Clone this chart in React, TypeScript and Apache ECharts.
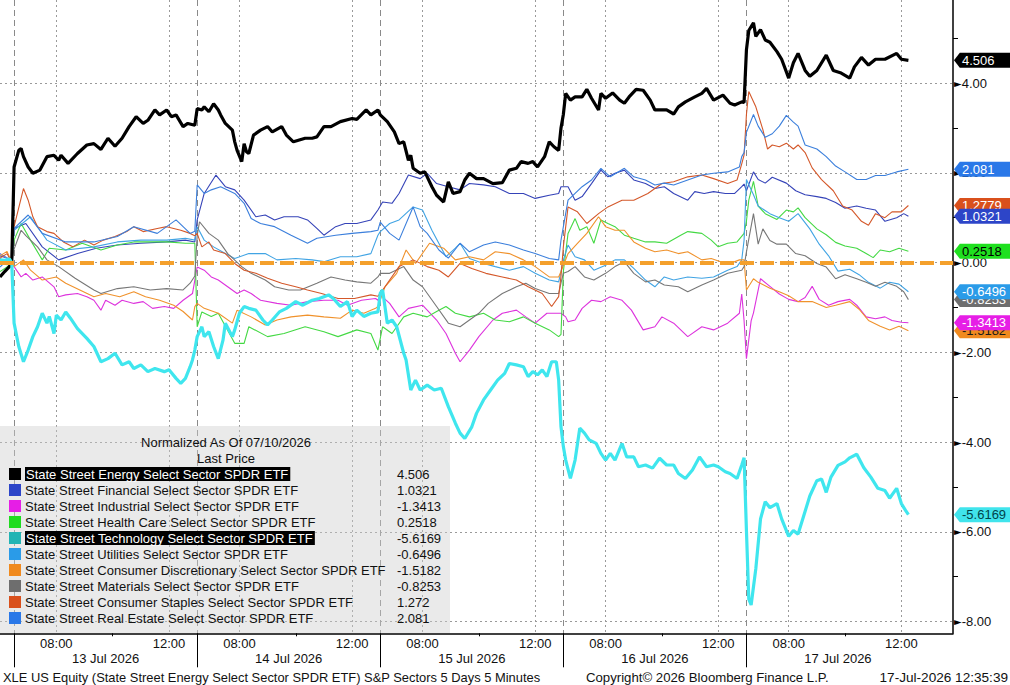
import React, { useEffect, useRef } from "react";
import * as echarts from "echarts";

// ---------- axis / time structure ----------
const DAYS = ["13 Jul 2026", "14 Jul 2026", "15 Jul 2026", "16 Jul 2026", "17 Jul 2026"];
const PRIOR_DAY = "10 Jul 2026";
const PRIOR_BARS = 6; // last bars of 07/10 session
const BARS_PER_DAY = 78; // 5-minute bars 06:30-13:00 (terminal local time)
const TOTAL_BARS = 407;
const OPEN_MIN = 390; // 06:30
const PRIOR_START_MIN = 750; // 12:30
const LABEL_TIMES = ["08:00", "12:00"];
const TICK_TIMES = ["10:00"];

// ---------- series values: [bar index, normalized % change] ----------
const ENERGY = [[0,-0.32],[2,-0.2],[4,-0.09],[5,0],[6,2.13],[8,2.5],[9,2.54],[10,2.36],[12,2.13],[14,1.99],[17,2.06],[20,2.36],[23,2.39],[25,2.28],[26,2.39],[29,2.21],[33,2.43],[37,2.62],[40,2.65],[43,2.52],[46,2.77],[49,2.59],[52,2.77],[55,3.03],[58,3.25],[61,3.1],[63,3.17],[66,3.4],[68,3.29],[71,3.4],[73,3.25],[75,3.29],[78,3.03],[80,3.1],[83,3.06],[84,3.43],[86,3.4],[87,3.47],[89,3.36],[91,3.54],[93,3.4],[94,3.29],[96,3.1],[99,2.95],[100,2.69],[101,2.5],[103,2.25],[104,2.65],[105,2.47],[106,2.43],[108,2.84],[111,2.95],[114,3.03],[116,2.91],[120,3.03],[122,2.84],[125,2.69],[130,2.77],[133,2.77],[135,2.8],[138,3.03],[141,3.03],[145,3.14],[150,3.21],[152,3.19],[156,3.4],[158,3.29],[161,3.4],[162,3.29],[165,3.14],[168,2.91],[170,2.65],[172,2.69],[174,2.28],[175,2.39],[176,2.1],[179,1.99],[181,2.02],[184,1.69],[186,1.5],[189,1.35],[191,1.8],[193,1.54],[196,1.58],[198,1.84],[200,1.99],[203,1.87],[206,1.87],[210,1.76],[214,1.78],[217,2.06],[220,2.1],[222,2.25],[225,2.21],[227,2.25],[229,2.13],[232,2.36],[234,2.69],[236,2.58],[238,2.5],[239,3.0],[240,3.3],[241,3.77],[243,3.62],[245,3.69],[248,3.69],[250,3.86],[252,3.66],[255,3.4],[256,3.77],[258,3.66],[261,3.78],[264,3.62],[266,3.55],[268,3.69],[271,3.86],[274,3.84],[277,3.62],[279,3.4],[282,3.4],[284,3.4],[287,3.31],[289,3.47],[292,3.58],[296,3.69],[299,3.77],[301,3.88],[304,3.62],[308,3.73],[311,3.55],[313,3.51],[316,3.58],[317,3.57],[318,4.74],[319,5.17],[321,5.34],[322,5.04],[324,5.19],[326,4.96],[328,4.91],[331,4.7],[333,4.53],[336,4.11],[338,4.45],[340,4.66],[343,4.28],[345,4.15],[348,4.28],[352,4.62],[355,4.28],[358,4.23],[362,4.11],[364,4.36],[367,4.57],[370,4.4],[373,4.53],[377,4.53],[382,4.66],[384,4.53],[387,4.506]];

const FINANCIAL = [[0,0.15],[3,0.1],[5,0],[6,0.76],[11,0.87],[18,0.35],[25,0.06],[33,0.2],[41,0.32],[50,0.39],[60,0.43],[71,0.46],[79,0.5],[83,0.46],[84,0.95],[87,1.54],[92,1.95],[96,1.69],[100,1.62],[104,1.39],[109,1.02],[113,1.06],[117,0.95],[121,1.02],[127,1.02],[131,0.95],[135,0.76],[138,0.61],[143,0.8],[147,0.87],[152,0.87],[158,0.95],[161,1.17],[163,1.35],[167,1.32],[170,1.54],[174,1.95],[179,1.87],[182,1.99],[186,1.76],[191,1.69],[196,1.62],[200,1.76],[206,1.73],[211,1.69],[217,1.54],[223,1.54],[228,1.43],[234,1.5],[238,1.54],[239,1.69],[242,1.69],[245,1.39],[248,1.47],[252,1.76],[256,2.06],[259,1.91],[262,1.99],[266,2.06],[270,1.84],[275,1.76],[279,1.65],[283,1.69],[287,1.54],[293,1.39],[296,1.58],[300,1.54],[304,1.58],[309,1.54],[313,1.54],[316,1.69],[317,1.75],[318,1.6],[321,2.02],[323,1.85],[326,1.77],[329,1.9],[335,1.77],[339,1.6],[343,1.51],[348,1.47],[352,1.43],[356,1.34],[360,1.21],[365,1.26],[369,1.21],[373,1.17],[377,0.92],[382,1.0],[385,1.09],[387,1.0321]];

const INDUSTRIAL = [[0,0.2],[3,0.1],[5,0],[6,-0.09],[9,-0.32],[11,-0.24],[14,-0.39],[18,-0.32],[23,-0.54],[25,-0.76],[28,-0.72],[33,-0.69],[37,-0.76],[40,-0.84],[43,-1.06],[45,-0.84],[49,-0.95],[52,-0.84],[57,-0.91],[61,-0.87],[65,-1.02],[70,-0.98],[74,-1.02],[78,-0.84],[82,-0.69],[83,-0.39],[84,-0.1],[87,-0.17],[90,-0.32],[93,-0.39],[97,-0.54],[101,-0.69],[104,-0.61],[107,-0.69],[111,-0.84],[118,-0.91],[124,-0.95],[131,-0.87],[138,-0.84],[144,-0.84],[148,-0.95],[154,-0.84],[160,-0.8],[161,-0.84],[162,-0.72],[166,-0.91],[170,-1.21],[174,-1.02],[180,-0.95],[186,-1.28],[190,-1.58],[194,-2.02],[196,-2.21],[200,-1.95],[204,-1.65],[210,-1.28],[214,-1.13],[220,-1.06],[224,-1.21],[228,-1.35],[233,-1.13],[237,-1.13],[239,-1.13],[241,-1.21],[242,-1.32],[245,-1.28],[248,-1.02],[252,-0.84],[256,-0.87],[260,-0.76],[265,-0.84],[269,-1.06],[274,-1.5],[279,-1.43],[282,-1.21],[287,-1.35],[293,-1.65],[299,-1.43],[304,-1.5],[310,-1.35],[315,-1.13],[316,-0.7],[317,-1.3],[318,-2.14],[320,-1.3],[321,-1.12],[324,-0.36],[328,-0.53],[332,-0.7],[336,-0.82],[340,-0.87],[343,-0.78],[346,-0.53],[349,-0.82],[353,-0.95],[357,-0.87],[362,-0.82],[365,-0.95],[369,-1.21],[373,-1.25],[377,-1.21],[380,-1.29],[384,-1.33],[387,-1.3413]];

const HEALTH_CARE = [[0,-0.2],[3,-0.1],[5,0],[6,0.5],[9,0.87],[13,0.5],[18,0.06],[21,0.32],[28,0.28],[35,0.43],[43,0.28],[50,0.39],[57,0.46],[64,0.46],[71,0.46],[79,0.43],[83,0.43],[84,-1.43],[86,-1.1],[90,-1.2],[93,-1.13],[100,-1.8],[104,-1.8],[106,-1.43],[114,-1.65],[121,-1.58],[130,-1.43],[138,-1.54],[144,-1.65],[152,-1.5],[158,-1.58],[161,-1.95],[163,-1.43],[167,-1.58],[172,-1.21],[176,-1.13],[182,-1.21],[186,-1.09],[190,-0.98],[194,-1.13],[200,-1.21],[206,-1.13],[211,-1.28],[217,-1.32],[223,-1.21],[228,-1.35],[234,-1.5],[238,-1.65],[239,-1.6],[240,-0.2],[242,0.65],[245,0.98],[247,0.72],[250,0.8],[253,0.43],[256,0.95],[259,0.87],[262,0.8],[266,0.61],[270,0.54],[275,0.46],[279,0.46],[284,0.43],[290,0.61],[293,0.69],[299,0.65],[303,0.5],[306,0.35],[310,0.43],[314,0.46],[317,0.65],[318,0.92],[319,1.39],[321,1.81],[323,1.26],[326,1.09],[331,0.96],[335,1.17],[338,1.13],[340,1.22],[343,1.0],[348,0.75],[352,0.62],[356,0.45],[360,0.37],[365,0.32],[369,0.2],[372,0.11],[375,0.28],[379,0.24],[383,0.32],[387,0.2518]];

const TECHNOLOGY = [[0,0.06],[2,0.05],[4,0.08],[5,0],[6,-1.35],[8,-1.87],[10,-2.21],[12,-1.95],[14,-1.65],[16,-1.43],[18,-1.13],[20,-1.35],[21,-1.2],[23,-1.58],[24,-1.17],[26,-1.28],[28,-1.1],[30,-1.24],[33,-1.47],[37,-1.69],[40,-1.87],[43,-2.21],[46,-2.14],[49,-2.02],[52,-2.28],[55,-2.21],[57,-2.36],[60,-2.28],[63,-2.43],[66,-2.36],[70,-2.43],[72,-2.39],[75,-2.58],[77,-2.69],[79,-2.58],[81,-2.32],[82,-2.17],[83,-1.95],[84,-1.65],[86,-1.43],[87,-1.65],[89,-1.54],[91,-1.87],[93,-2.14],[95,-1.73],[96,-1.35],[99,-1.65],[100,-1.5],[102,-1.13],[104,-0.98],[106,-1.02],[109,-1.06],[112,-1.28],[114,-1.39],[116,-1.28],[119,-1.1],[122,-1.02],[126,-0.87],[129,-0.95],[133,-0.84],[136,-0.8],[140,-0.72],[142,-0.8],[145,-0.98],[148,-0.87],[150,-1.2],[152,-1.06],[155,-1.2],[158,-1.13],[161,-1.1],[162,-0.68],[163,-0.61],[165,-1.35],[167,-1.28],[169,-1.43],[172,-2.02],[173,-2.17],[175,-2.84],[177,-2.62],[179,-2.84],[182,-2.73],[185,-2.84],[188,-2.8],[191,-3.21],[194,-3.58],[196,-3.8],[198,-3.92],[201,-3.66],[203,-3.36],[206,-3.06],[209,-2.84],[212,-2.62],[215,-2.47],[217,-2.25],[220,-2.28],[223,-2.32],[225,-2.54],[227,-2.43],[229,-2.5],[231,-2.39],[233,-2.54],[235,-2.21],[237,-2.21],[238,-2.62],[239,-3.66],[240,-4.1],[241,-4.4],[243,-4.81],[245,-4.4],[247,-3.69],[249,-3.8],[251,-3.95],[254,-4.03],[256,-4.25],[258,-4.4],[260,-4.25],[262,-4.4],[265,-4.03],[267,-4.33],[270,-4.33],[272,-4.55],[275,-4.51],[278,-4.58],[281,-4.36],[284,-4.51],[287,-4.51],[289,-4.7],[292,-4.81],[295,-4.62],[298,-4.33],[301,-4.55],[304,-4.51],[306,-4.55],[309,-4.66],[311,-4.7],[314,-4.81],[316,-4.51],[317,-4.35],[318,-5.97],[319,-7.5],[320,-7.63],[322,-6.82],[324,-5.71],[326,-5.33],[328,-5.46],[331,-5.37],[333,-5.71],[336,-6.1],[338,-5.97],[340,-6.05],[343,-5.54],[345,-5.2],[348,-4.86],[350,-4.82],[352,-5.12],[354,-4.78],[357,-4.52],[360,-4.44],[362,-4.35],[365,-4.27],[368,-4.57],[371,-4.78],[374,-5.03],[377,-5.08],[379,-5.25],[382,-5.03],[384,-5.37],[386,-5.54],[387,-5.6169]];

const UTILITIES = [[0,0.2],[3,0.1],[5,0],[6,0.72],[13,1.02],[20,0.5],[28,0.28],[40,0.35],[50,0.46],[60,0.5],[71,0.5],[79,0.54],[83,0.5],[84,0.8],[87,0.5],[91,0.35],[96,0.2],[100,0.09],[106,0.2],[113,0.2],[118,0.06],[126,0.09],[133,0.06],[138,0.02],[145,0.13],[152,0.13],[158,0.2],[161,0.61],[162,0.69],[166,0.87],[170,0.95],[176,1.24],[180,1.17],[184,0.72],[190,0.13],[194,0.32],[196,0.43],[200,0.09],[206,-0.02],[211,-0.09],[217,-0.17],[223,-0.09],[228,-0.24],[234,-0.39],[238,-0.43],[239,-0.2],[240,0.06],[242,0.39],[245,0.13],[249,0.06],[253,-0.17],[258,-0.06],[262,0.06],[266,0.06],[270,-0.13],[275,-0.39],[279,-0.54],[283,-0.32],[287,-0.39],[293,-0.32],[299,-0.35],[304,-0.32],[310,-0.17],[314,-0.09],[316,0.06],[317,0.5],[318,1.85],[321,1.51],[323,1.26],[328,1.09],[332,1.0],[336,0.92],[340,1.09],[345,0.75],[349,0.41],[353,0.15],[357,-0.19],[362,-0.15],[366,-0.27],[370,-0.44],[375,-0.57],[379,-0.44],[383,-0.48],[387,-0.6496]];

const DISCRETIONARY = [[0,0.15],[3,0.25],[5,0],[6,-0.09],[10,0.06],[13,-0.17],[18,-0.39],[24,-0.32],[28,-0.46],[34,-0.61],[40,-0.76],[45,-0.69],[51,-0.76],[57,-0.65],[62,-0.76],[68,-0.84],[74,-0.95],[78,-1.09],[82,-1.28],[83,-0.98],[84,-0.91],[87,-1.02],[93,-1.13],[99,-1.35],[101,-1.06],[107,-1.21],[113,-1.39],[118,-1.28],[124,-1.21],[131,-1.17],[138,-1.21],[145,-1.24],[150,-1.06],[155,-1.13],[160,-1.02],[161,-0.98],[164,-0.54],[169,-0.24],[173,0.28],[177,-0.02],[183,0.43],[189,0.32],[194,0.06],[200,0.13],[206,0.06],[211,0.24],[217,0.2],[223,0.06],[228,-0.09],[234,-0.32],[238,-0.32],[239,-0.2],[242,0.2],[246,0.43],[250,0.65],[255,1.02],[258,0.8],[262,0.72],[266,0.72],[270,0.46],[275,0.32],[279,0.24],[284,0.28],[289,0.2],[293,0.24],[299,0.06],[303,0.09],[307,0.02],[311,-0.02],[315,0.06],[317,0.06],[318,-0.61],[321,-0.36],[323,-0.44],[328,-0.57],[332,-0.65],[336,-0.74],[340,-0.87],[346,-0.87],[352,-1.0],[356,-0.95],[362,-0.87],[366,-1.04],[370,-1.29],[375,-1.42],[379,-1.5],[383,-1.42],[387,-1.5182]];

const MATERIALS = [[0,0.1],[3,-0.05],[5,0],[6,0.3],[9,0.72],[11,0.6],[16,0.35],[20,0.06],[25,-0.09],[32,-0.35],[40,-0.61],[43,-0.69],[50,-0.58],[57,-0.54],[64,-0.61],[71,-0.58],[78,-0.61],[81,-0.46],[83,-0.3],[84,0.6],[85,0.91],[89,0.65],[93,0.5],[97,0.2],[103,-0.09],[107,-0.24],[113,-0.39],[117,-0.54],[123,-0.61],[128,-0.61],[135,-0.46],[141,-0.32],[147,-0.39],[152,-0.43],[158,-0.46],[161,-0.32],[162,-0.24],[166,-0.24],[172,-0.09],[176,-0.39],[180,-0.54],[186,-0.98],[191,-1.35],[196,-1.43],[200,-1.28],[204,-1.13],[208,-0.91],[214,-0.69],[220,-0.54],[224,-0.46],[228,-0.58],[234,-0.69],[238,-0.69],[239,-0.45],[240,-0.24],[242,-0.2],[245,-0.09],[249,-0.32],[253,-0.39],[258,-0.24],[262,-0.09],[266,0.02],[270,-0.24],[275,-0.43],[279,-0.39],[283,-0.5],[289,-0.54],[293,-0.65],[299,-0.5],[304,-0.39],[310,-0.24],[316,-0.17],[317,-0.09],[318,0.24],[321,1.09],[323,0.41],[325,0.75],[328,0.49],[331,0.41],[335,0.41],[339,0.2],[343,0.15],[348,-0.02],[352,-0.1],[356,-0.36],[360,-0.27],[365,-0.36],[369,-0.44],[373,-0.53],[377,-0.44],[382,-0.53],[385,-0.65],[387,-0.8253]];

const STAPLES = [[0,0.1],[3,0.2],[5,0],[6,0.8],[10,1.65],[12,1.39],[14,1.02],[16,0.8],[20,0.69],[23,0.65],[27,0.46],[31,0.35],[36,0.5],[40,0.39],[44,0.5],[49,0.58],[54,0.69],[57,0.8],[61,0.69],[67,0.76],[71,0.8],[77,0.72],[81,0.65],[83,0.6],[84,0.65],[86,0.35],[89,0.46],[91,0.28],[96,0.2],[100,-0.02],[104,-0.17],[109,-0.24],[114,-0.35],[120,-0.46],[126,-0.54],[131,-0.61],[137,-0.69],[144,-0.8],[151,-0.8],[158,-0.72],[161,-0.75],[164,-0.54],[170,-0.09],[176,0.06],[182,-0.09],[187,-0.17],[191,-0.32],[196,-0.02],[201,-0.13],[207,-0.24],[214,-0.32],[220,-0.39],[225,-0.54],[231,-0.69],[235,-0.98],[238,-0.76],[239,-0.3],[240,0.35],[242,1.24],[246,1.13],[250,0.87],[255,1.09],[259,1.24],[265,1.39],[270,1.39],[276,1.54],[282,1.76],[287,1.8],[293,1.91],[299,1.95],[304,1.87],[310,1.76],[314,1.84],[316,2.2],[317,2.4],[318,3.3],[319,3.81],[322,3.47],[325,2.96],[327,2.53],[329,2.62],[332,2.58],[335,2.66],[338,2.53],[340,2.62],[343,2.45],[346,2.11],[350,1.85],[355,1.6],[359,1.26],[363,1.17],[367,0.92],[370,0.83],[373,1.09],[377,1.0],[380,1.13],[384,1.13],[387,1.272]];

const REAL_ESTATE = [[0,-0.1],[3,0.05],[5,0],[6,0.76],[12,1.06],[18,0.65],[28,0.46],[40,0.46],[50,0.58],[57,0.8],[67,0.65],[75,0.95],[81,0.65],[83,0.7],[84,1.73],[87,1.54],[90,1.62],[94,1.69],[100,1.54],[104,1.32],[107,0.98],[111,0.87],[117,0.8],[124,0.61],[131,0.43],[135,0.54],[143,0.61],[150,0.65],[158,0.69],[161,0.72],[162,0.9],[166,0.65],[170,0.5],[176,1.24],[179,0.8],[182,0.65],[187,0.28],[191,0.1],[196,0.43],[200,0.24],[206,0.39],[211,0.46],[217,0.39],[223,0.28],[228,0.2],[234,0.09],[238,0.06],[239,0.5],[242,1.39],[245,1.54],[248,1.69],[252,1.84],[256,2.1],[260,1.91],[266,2.1],[270,1.91],[275,1.84],[279,1.73],[283,1.77],[287,1.73],[293,1.84],[299,1.95],[304,1.99],[310,2.02],[315,2.13],[316,2.36],[317,2.45],[318,2.9],[321,3.3],[323,3.04],[326,2.79],[329,2.87],[332,3.04],[335,3.28],[338,3.13],[340,3.04],[343,2.62],[348,2.53],[352,2.36],[356,2.15],[360,2.02],[365,1.85],[369,1.85],[373,1.94],[377,1.94],[382,2.02],[387,2.081]];

const NAMES = [
  "State Street Energy Select Sector SPDR ETF",
  "State Street Financial Select Sector SPDR ETF",
  "State Street Industrial Select Sector SPDR ETF",
  "State Street Health Care Select Sector SPDR ETF",
  "State Street Technology Select Sector SPDR ETF",
  "State Street Utilities Select Sector SPDR ETF",
  "State Street Consumer Discretionary Select Sector SPDR ETF",
  "State Street Materials Select Sector SPDR ETF",
  "State Street Consumer Staples Select Sector SPDR ETF",
  "State Street Real Estate Select Sector SPDR ETF",
];
const SERIES_DATA = [ENERGY, FINANCIAL, INDUSTRIAL, HEALTH_CARE, TECHNOLOGY, UTILITIES, DISCRETIONARY, MATERIALS, STAPLES, REAL_ESTATE];
const LAST_PRICE = ["4.506", "1.0321", "-1.3413", "0.2518", "-5.6169", "-0.6496", "-1.5182", "-0.8253", "1.272", "2.081"];
const TAG_TEXT = ["4.506", "1.0321", "-1.3413", "0.2518", "-5.6169", "-0.6496", "-1.5182", "-0.8253", "1.2779", "2.081"];
const HIGHLIGHTED = [true, false, false, false, true, false, false, false, false, false];

// ---------- styles ----------
const FONT = "'Liberation Sans', Arial, sans-serif";
const LINE_COLORS = ["#000000", "#3543b8", "#dd33dd", "#44d944", "#3fe6ee", "#41a4e4", "#f0922c", "#777777", "#d4582a", "#3b7fdc"];
const LINE_WIDTHS = [3.2, 1.1, 1.1, 1.1, 3.2, 1.1, 1.1, 1.1, 1.1, 1.1];
const KEY_COLORS = ["#000000", "#2d45c8", "#e61ee6", "#1fdc1f", "#22b4b4", "#2a9be8", "#f08a1e", "#6e6e6e", "#d9501c", "#2a78e8"];
const TAG_COLORS = ["#000000", "#2d45c8", "#e61ee6", "#1fe01f", "#40e4ec", "#2a9be8", "#f08a1e", "#6e6e6e", "#d9501c", "#2a78e8"];
const TAG_TEXT_COLORS = ["#ffffff", "#ffffff", "#ffffff", "#000000", "#00434a", "#ffffff", "#1a1a1a", "#ffffff", "#ffffff", "#ffffff"];
const TAG_Z = [5, 7, 7, 5, 5, 7, 5, 5, 5, 5];

function hhmm(min: number) {
  const h = Math.floor(min / 60);
  const m = min % 60;
  return String(h).padStart(2, "0") + ":" + String(m).padStart(2, "0");
}

const CATEGORIES: string[] = [];
for (let i = 0; i < TOTAL_BARS; i++) {
  let day: string;
  let min: number;
  if (i < PRIOR_BARS) {
    day = PRIOR_DAY;
    min = PRIOR_START_MIN + i * 5;
  } else {
    const s = i - PRIOR_BARS;
    let d = Math.floor(s / BARS_PER_DAY);
    let k = s % BARS_PER_DAY;
    if (d > DAYS.length - 1) {
      k += (d - (DAYS.length - 1)) * BARS_PER_DAY;
      d = DAYS.length - 1;
    }
    day = DAYS[d];
    min = OPEN_MIN + k * 5;
  }
  CATEGORIES.push(day + "|" + hhmm(min));
}

const timeOf = (i: number) => CATEGORIES[i].split("|")[1];
const isLabelBar = (i: number) => i >= PRIOR_BARS && LABEL_TIMES.includes(timeOf(i));
const isTickBar = (i: number) => i >= PRIOR_BARS && TICK_TIMES.includes(timeOf(i));
const isDayStart = (i: number) => i >= PRIOR_BARS && (i - PRIOR_BARS) % BARS_PER_DAY === 0 && (i - PRIOR_BARS) / BARS_PER_DAY < DAYS.length;
const isDayMid = (i: number) => i >= PRIOR_BARS && (i - PRIOR_BARS) % BARS_PER_DAY === 39 && Math.floor((i - PRIOR_BARS) / BARS_PER_DAY) < DAYS.length;

function buildOption() {
  const series: any[] = SERIES_DATA.map((data, k) => {
    const last = data[data.length - 1][1];
    const s: any = {
      name: NAMES[k],
      type: "line",
      xAxisIndex: 0,
      yAxisIndex: 0,
      data: data,
      showSymbol: false,
      symbol: "none",
      silent: true,
      z: LINE_WIDTHS[k] > 2 ? 4 : 2,
      lineStyle: { color: LINE_COLORS[k], width: LINE_WIDTHS[k] },
      emphasis: { disabled: true },
      markPoint: {
        silent: true,
        z: TAG_Z[k],
        symbol: "path://M0,8L6,0L60,0L60,16L6,16Z",
        symbolSize: [58, 15],
        symbolKeepAspect: false,
        symbolOffset: [30, 0],
        itemStyle: { color: TAG_COLORS[k] },
        label: {
          show: true,
          position: "insideLeft",
          distance: 8,
          formatter: TAG_TEXT[k],
          color: TAG_TEXT_COLORS[k],
          fontSize: 13,
          fontFamily: FONT,
        },
        data: [{ coord: [TOTAL_BARS - 1, last], value: last }],
      },
    };
    if (k === 0) {
      s.markLine = {
        silent: true,
        symbol: ["none", "none"],
        label: { show: false },
        lineStyle: { color: "#f4a02c", width: 4, type: [14, 6] },
        data: [{ yAxis: 0 }],
      };
    }
    return s;
  });

  const graphic: any[] = [];
  const LX = 0, LY = 426, LW = 450, LH = 207;
  graphic.push({ type: "rect", z: 50, silent: true, shape: { x: LX, y: LY, width: LW, height: LH }, style: { fill: "rgba(205,205,205,0.42)" } });
  graphic.push({ type: "text", z: 51, silent: true, x: 226, y: 442, style: { text: "Normalized As Of 07/10/2026", fontSize: 13, fontFamily: FONT, fill: "#111", align: "center", verticalAlign: "middle" } });
  graphic.push({ type: "text", z: 51, silent: true, x: 226, y: 458, style: { text: "Last Price", fontSize: 13, fontFamily: FONT, fill: "#111", align: "center", verticalAlign: "middle" } });
  NAMES.forEach((name, k) => {
    const cy = 474 + 16 * k;
    graphic.push({ type: "rect", z: 51, silent: true, shape: { x: 9, y: cy - 6, width: 12, height: 12 }, style: { fill: KEY_COLORS[k] } });
    graphic.push({
      type: "text", z: 51, silent: true, x: 25, y: cy,
      style: HIGHLIGHTED[k]
        ? { text: name, fontSize: 13, fontFamily: FONT, fill: "#fff", backgroundColor: "#000", padding: [1, 2, 0, 1], align: "left", verticalAlign: "middle" }
        : { text: name, fontSize: 13, fontFamily: FONT, fill: "#111", align: "left", verticalAlign: "middle" },
    });
    graphic.push({ type: "text", z: 51, silent: true, x: 397, y: cy, style: { text: LAST_PRICE[k], fontSize: 13, fontFamily: FONT, fill: "#111", align: "left", verticalAlign: "middle" } });
  });
  graphic.push({ type: "text", silent: true, x: 3, y: 677, style: { text: "XLE US Equity (State Street Energy Select Sector SPDR ETF) S&P Sectors 5 Days 5 Minutes", fontSize: 12.9, fontFamily: FONT, fill: "#111", align: "left", verticalAlign: "middle" } });
  graphic.push({ type: "text", silent: true, x: 586, y: 677, style: { text: "Copyright\u00A9 2026 Bloomberg Finance L.P.", fontSize: 13.2, fontFamily: FONT, fill: "#111", align: "left", verticalAlign: "middle" } });
  graphic.push({ type: "text", silent: true, x: 1008, y: 677, style: { text: "17-Jul-2026 12:35:39", fontSize: 13.6, fontFamily: FONT, fill: "#111", align: "right", verticalAlign: "middle" } });

  return {
    animation: false,
    backgroundColor: "#ffffff",
    textStyle: { fontFamily: FONT },
    grid: { left: 0, right: 57, top: 0, bottom: 51.7, containLabel: false, outerBoundsMode: "none" },
    xAxis: [
      {
        type: "category",
        data: CATEGORIES,
        boundaryGap: false,
        position: "bottom",
        axisLine: { show: true, onZero: false, lineStyle: { color: "#000", width: 1.5 } },
        axisTick: { show: true, interval: (i: number) => isTickBar(i), length: 3, lineStyle: { color: "#000" } },
        axisLabel: {
          show: true,
          interval: (i: number) => isLabelBar(i),
          formatter: (v: string) => v.split("|")[1],
          margin: 4,
          fontSize: 13,
          color: "#111",
          fontFamily: FONT,
        },
        splitLine: { show: true, interval: (i: number) => isLabelBar(i), lineStyle: { color: "#9a9a9a", type: [2, 3], width: 1 } },
      },
      {
        type: "category",
        data: CATEGORIES,
        boundaryGap: false,
        position: "bottom",
        axisLine: { show: false, onZero: false },
        axisTick: { show: true, interval: (i: number) => isDayStart(i), length: 34, lineStyle: { color: "#000", width: 1 } },
        axisLabel: {
          show: true,
          interval: (i: number) => isDayMid(i),
          formatter: (v: string) => v.split("|")[0],
          margin: 19,
          fontSize: 13,
          color: "#111",
          fontFamily: FONT,
        },
        splitLine: { show: true, interval: (i: number) => isDayStart(i), lineStyle: { color: "#8a8a8a", type: [6, 4], width: 1 } },
      },
    ],
    yAxis: {
      type: "value",
      position: "right",
      min: -8.26,
      max: 5.85,
      splitNumber: 7,
      axisLine: { show: true, onZero: false, lineStyle: { color: "#000", width: 1.5 } },
      axisTick: { show: false },
      minorTick: { show: true, splitNumber: 2, length: 5, lineStyle: { color: "#000", width: 1 } },
      minorSplitLine: { show: false },
      splitLine: { show: true, showMinLine: false, showMaxLine: false, lineStyle: { color: "#9a9a9a", type: [2, 3], width: 1 } },
      axisLabel: {
        margin: 1,
        showMinLabel: false,
        showMaxLabel: false,
        formatter: (v: number) => {
          const r = Math.round(v);
          if (Math.abs(v - r) > 1e-6 || r % 2 !== 0) return "";
          return "{a|\u25BA}{b|" + v.toFixed(2) + "}";
        },
        rich: {
          a: { fontSize: 10, color: "#000", fontFamily: "DejaVu Sans" },
          b: { fontSize: 13, color: "#111", fontFamily: FONT },
        },
      },
    },
    series,
    graphic,
  };
}

export default function App() {
  const ref = useRef<HTMLDivElement>(null);
  useEffect(() => {
    if (!ref.current) return;
    const chart = echarts.init(ref.current, null, { renderer: "svg" });
    chart.setOption(buildOption() as any);
    return () => chart.dispose();
  }, []);
  return (
    <div
      ref={ref}
      style={{ position: "fixed", left: 0, top: 0, width: 1010, height: 685, background: "#ffffff" }}
    />
  );
}
